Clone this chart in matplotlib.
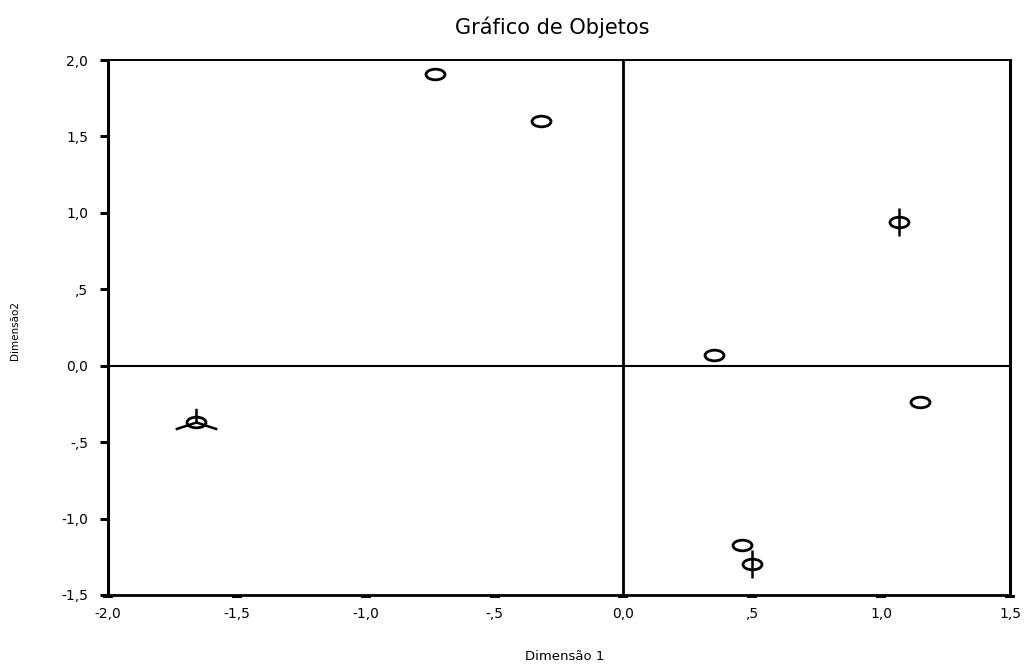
import numpy as np
import matplotlib
matplotlib.use("Agg")
import matplotlib.pyplot as plt
from matplotlib.path import Path

# object scores
dim1 = [-0.73, -0.32, 1.07, 0.35, 1.15, -1.66, 0.46, 0.50]
dim2 = [1.91, 1.60, 0.94, 0.07, -0.24, -0.37, -1.17, -1.30]
counts = [1, 1, 2, 1, 1, 3, 1, 2]  # objects stacked at each point (sunflower petals)

x_ticks = [-2.0, -1.5, -1.0, -0.5, 0.0, 0.5, 1.0, 1.5]
x_labels = ["-2,0", "-1,5", "-1,0", "-,5", "0,0", ",5", "1,0", "1,5"]
y_ticks = [-1.5, -1.0, -0.5, 0.0, 0.5, 1.0, 1.5, 2.0]
y_labels = ["-1,5", "-1,0", "-,5", "0,0", ",5", "1,0", "1,5", "2,0"]

title = "Gráfico de Objetos"
xlabel = "Dimensão 1"
ylabel = "Dimensão2"

plt.rcParams['font.family'] = ['DejaVu Sans']
PX = 0.72  # points per pixel at dpi 100


def ellipse_marker():
    circ = Path.unit_circle()
    verts = circ.vertices * np.array([1.0, 0.56])
    return Path(verts, circ.codes)


def petal_marker(n, length=24.0, squash=0.57):
    """Lines from the centre, one per stacked object (SPSS sunflower)."""
    verts, codes = [], []
    for k in range(n):
        a = np.deg2rad(90 + k * 360.0 / n)
        verts += [(0, 0), (length * np.cos(a), length * squash * np.sin(a))]
        codes += [Path.MOVETO, Path.LINETO]
    verts = np.array(verts)
    verts[np.abs(verts) < 1e-9] = 0
    return Path(verts, codes), 2 * np.abs(verts).max() * PX


fig = plt.figure(figsize=(10.26, 6.64), dpi=100)
ax = fig.add_axes([108 / 1026, 1 - 595 / 664, 902 / 1026, 535 / 664])

ax.axvline(0, color='black', lw=2.0, zorder=1)
ax.axhline(0, color='black', lw=1.5, zorder=1)

ax.plot(dim1, dim2, linestyle='none', marker=ellipse_marker(), markersize=19 * PX,
        markerfacecolor='none', markeredgecolor='black', markeredgewidth=2.0, zorder=3)

for x, y, n in zip(dim1, dim2, counts):
    if n > 1:
        path, ms = petal_marker(n)
        ax.plot([x], [y], linestyle='none', marker=path, markersize=ms,
                markerfacecolor='none', markeredgecolor='black', markeredgewidth=1.8, zorder=3)

ax.set_xlim(-2.0, 1.5)
ax.set_ylim(-1.5, 2.0)
ax.set_xticks(x_ticks)
ax.set_xticklabels(x_labels)
ax.set_yticks(y_ticks)
ax.set_yticklabels(y_labels)

ax.tick_params(axis='y', direction='out', length=8 * PX, width=3 * PX, pad=12 * PX, labelsize=10)
ax.tick_params(axis='x', direction='out', length=3 * PX, width=10 * PX, pad=9 * PX, labelsize=10)

ax.spines['left'].set_linewidth(2.2)
ax.spines['right'].set_linewidth(2.2)
ax.spines['bottom'].set_linewidth(2.0)
ax.spines['top'].set_linewidth(1.4)

fig.text(552 / 1026, 1 - 27 / 664, title, ha='center', va='center', fontsize=15)
fig.text(565 / 1026, 1 - 657 / 664, xlabel, ha='center', va='center', fontsize=9.5)
fig.text(15 / 1026, 1 - 330 / 664, ylabel, ha='center', va='center', fontsize=7.5,
         rotation=90, family=['Liberation Sans Narrow', 'DejaVu Sans'])

fig.savefig("out.png", dpi=100)
